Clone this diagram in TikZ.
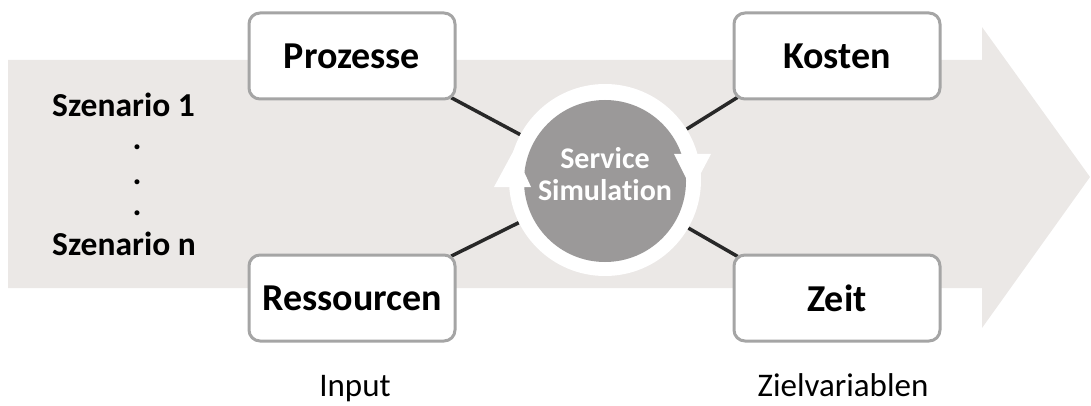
\documentclass[tikz,border=0pt]{standalone}
\usepackage{fontspec}
\setmainfont{Carlito}[Ligatures=NoCommon]
\definecolor{pfeilgrau}{RGB}{235,232,230}
\definecolor{kreisgrau}{RGB}{155,153,153}
\definecolor{rahmengrau}{RGB}{165,165,165}
\definecolor{liniengrau}{RGB}{40,40,40}
\pgfdeclarelayer{hinten}
\pgfsetlayers{hinten,main}
\begin{document}
\begin{tikzpicture}[x=1pt, y=-1pt,
    kasten/.style={draw=rahmengrau, line width=3pt, fill=white, rounded corners=11pt,
        minimum width=206pt, minimum height=86pt, font=\fontsize{38}{44}\selectfont\bfseries},
    linie/.style={draw=liniengrau, line width=3.5pt, shorten <=-6pt},
    szen/.style={inner sep=0pt, font=\fontsize{33.5}{40}\selectfont\bfseries},
    unten/.style={inner sep=0pt, anchor=base, font=\fontsize{33}{40}\selectfont}]
    \useasboundingbox (0,0) rectangle (1091,406);
    \node[kasten] (proz) at (352,56) {Prozesse};
    \node[kasten] (kost) at (837,56) {Kosten};
    \node[kasten] (ress) at (352,298) {Ressourcen};
    \node[kasten] (zeit) at (837,298) {Zeit};
    \node[circle, fill=white, minimum size=192pt] (ring) at (605,180) {};
    \node[circle, fill=kreisgrau, minimum size=162pt, text=white, align=center, text depth=14pt,
        font=\fontsize{30}{32}\selectfont\bfseries] (sim) at (605,181) {Service\\Simulation};
    \fill[white] (494,187) -- (531,187) -- (514,150) -- cycle;
    \fill[white] (674,154) -- (711,154) -- (692,190) -- cycle;
    \begin{pgfonlayer}{hinten}
        \fill[pfeilgrau] (8,60) -- (982,60) -- (982,27) -- (1090,177) -- (982,328) -- (982,288) -- (8,288) -- cycle;
        \draw[linie] (proz.south east) -- (ring);
        \draw[linie] (kost.south west) -- (ring);
        \draw[linie] (ress.north east) -- (ring);
        \draw[linie] (zeit.north west) -- (ring);
    \end{pgfonlayer}
    \node[szen, anchor=base west] (sz1) at (52,117) {Szenario 1};
    \foreach \y [count=\i] in {150,184,215}
        \node[szen, anchor=base] (punkt\i) at (137,\y) {.};
    \node[szen, anchor=base west] (szn) at (52,255) {Szenario n};
    \node[unten] (input) at (355,396) {Input};
    \node[unten] (ziel) at (843,396) {Zielvariablen};
\end{tikzpicture}
\end{document}
